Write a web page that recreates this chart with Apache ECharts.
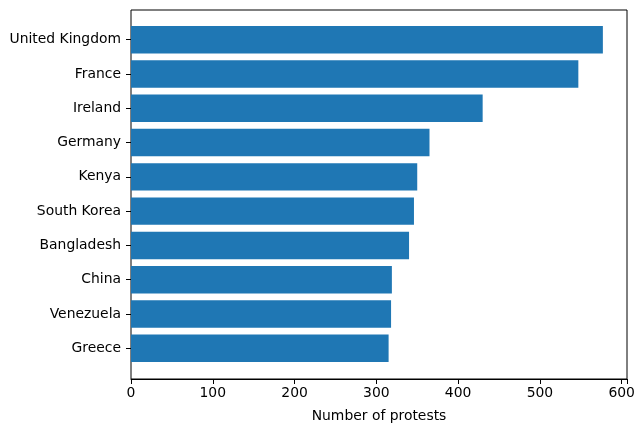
<!DOCTYPE html>
<html><head><meta charset="utf-8">
<script src="https://cdn.jsdelivr.net/npm/echarts@6/dist/echarts.min.js"></script>
<style>html,body{margin:0;padding:0;background:#fff}#c{width:644px;height:432px}</style>
</head><body><div id="c"></div>
<script>
const countries = ["United Kingdom","France","Ireland","Germany","Kenya","South Korea","Bangladesh","China","Venezuela","Greece"];
const protests = [577, 547, 430, 365, 350, 346, 340, 319, 318, 315];
const xTicks = [0,100,200,300,400,500,600];

const chart = echarts.init(document.getElementById('c'), null, {renderer:'canvas'});
const font = 'DejaVu Sans';
const fs = 13.9;
const xMax = 606.5;
chart.setOption({
  animation:false,
  backgroundColor:'#fff',
  grid:[
    {left:131, top:10, width:496, height:369, show:true, borderColor:'#000', borderWidth:1, containLabel:false},
    {left:131, top:22.6, width:496, height:342.8, containLabel:false}
  ],
  xAxis:[
    {gridIndex:0, type:'value', min:0, max:xMax, interval:100,
     axisLine:{show:true, lineStyle:{color:'#000', width:1}},
     axisTick:{show:true, length:5, lineStyle:{color:'#000'}},
     axisLabel:{color:'#000', fontFamily:font, fontSize:fs, margin:7,
       formatter:v=> xTicks.includes(v)? String(v):''},
     splitLine:{show:false},
     name:'Number of protests', nameLocation:'middle', nameGap:30,
     nameTextStyle:{color:'#000', fontFamily:font, fontSize:fs}},
    {gridIndex:1, type:'value', min:0, max:xMax, show:false}
  ],
  yAxis:[
    {gridIndex:0, type:'value', show:false, min:0, max:1},
    {gridIndex:1, type:'category', inverse:true, data:countries,
     axisLine:{show:false},
     axisTick:{show:true, alignWithLabel:true, length:5, lineStyle:{color:'#000'}},
     axisLabel:{color:'#000', fontFamily:font, fontSize:fs, margin:10, padding:[5,0,0,0]},
     splitLine:{show:false}}
  ],
  series:[{
    type:'bar', xAxisIndex:1, yAxisIndex:1, data:protests,
    barWidth:'80%', itemStyle:{color:'#1f77b4'}, silent:true
  }]
});
</script></body></html>
